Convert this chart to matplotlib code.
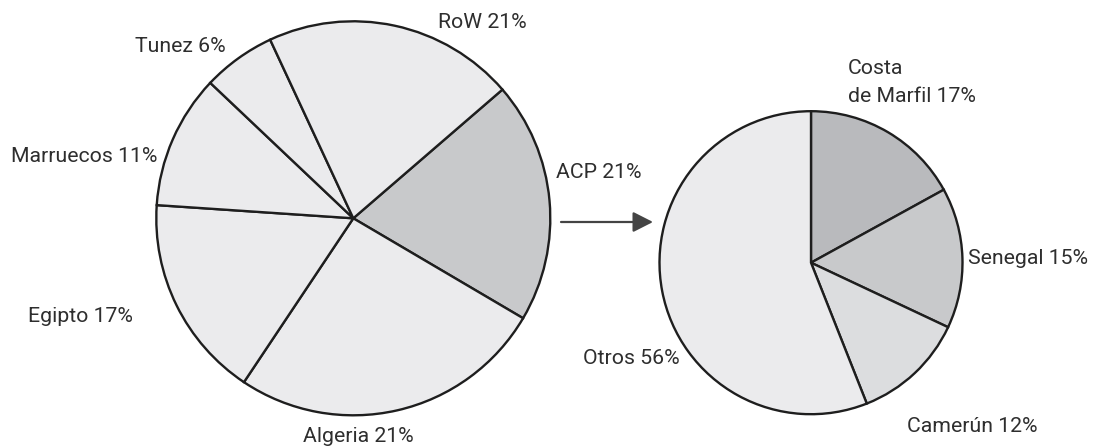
import numpy as np
import matplotlib
matplotlib.use('Agg')
import matplotlib.pyplot as plt

# left pie: slice sizes as drawn (clockwise from ACP) and the printed labels
left_names = ['ACP', 'Algeria', 'Egipto', 'Marruecos', 'Tunez', 'RoW']
left_shares = [19.8, 25.9, 16.7, 11.0, 6.0, 20.6]
left_labels = ['ACP 21%', 'Algeria 21%', 'Egipto 17%', 'Marruecos 11%', 'Tunez 6%', 'RoW 21%']

# right pie: breakdown of ACP (clockwise from top)
right_names = ['Costa de Marfil', 'Senegal', 'Camerún', 'Otros']
right_shares = [17, 15, 12, 56]
right_labels = ['Costa\nde Marfil 17%', 'Senegal 15%', 'Camerún 12%', 'Otros 56%']

W, H = 1097, 446
fig = plt.figure(figsize=(W / 100, H / 100), dpi=100)
ax = fig.add_axes([0, 0, 1, 1])

light = '#ebebed'
left_colors = ['#c8c9cb', light, light, light, light, light]
right_colors = ['#b9babd', '#c8c9cb', '#dcdddf', light]
edge = dict(edgecolor='#1e1e1e', linewidth=1.7)

ax.pie(left_shares, colors=left_colors, startangle=40.8, counterclock=False,
       center=(353.3, H - 218.3), radius=197, wedgeprops=edge, frame=True)
ax.pie(right_shares, colors=right_colors, startangle=90, counterclock=False,
       center=(811, H - 262.7), radius=151.5, wedgeprops=edge, frame=True)

# label anchor points (pixel coords, y from top) and alignment
left_pos = [(556, 173, 'left'), (358, 436, 'center'), (133, 316, 'right'),
            (157, 157, 'right'), (226, 46, 'right'), (482, 22, 'center')]
right_pos = [(848, 82, 'left'), (968, 259, 'left'), (907, 426, 'left'), (680, 358, 'right')]

txt = dict(fontsize=15.3, color='#2e2e2e', family=['Roboto', 'DejaVu Sans'], va='center')
for lab, (x, y, ha) in zip(left_labels, left_pos):
    ax.text(x, H - y, lab, ha=ha, **txt)
for lab, (x, y, ha) in zip(right_labels, right_pos):
    ax.text(x, H - y, lab, ha=ha, linespacing=1.6, **txt)

# arrow from left pie to right pie
ax.annotate('', xy=(653, H - 222), xytext=(561, H - 222),
            arrowprops=dict(arrowstyle='-|>,head_length=1.22,head_width=0.62',
                            color='#444444', lw=1.6, shrinkA=0, shrinkB=0))

ax.set_xlim(0, W)
ax.set_ylim(0, H)
ax.set_aspect('equal')
ax.axis('off')
fig.savefig('out.png', dpi=100)
